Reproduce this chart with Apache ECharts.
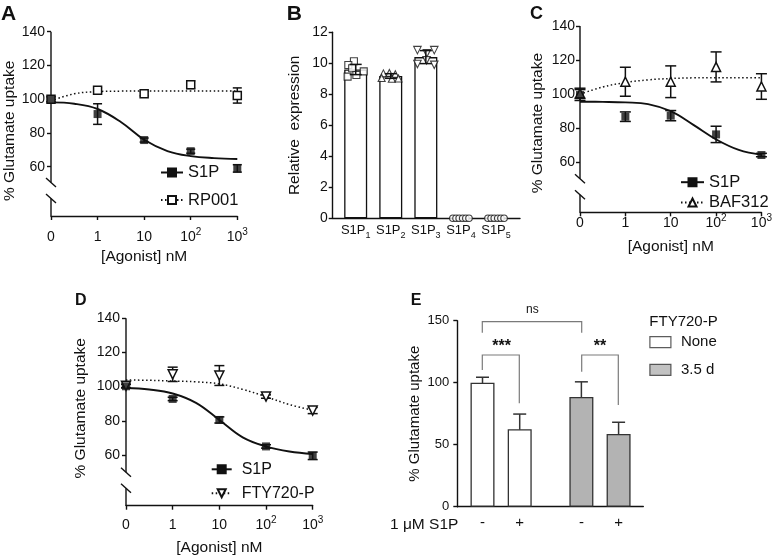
<!DOCTYPE html>
<html><head><meta charset="utf-8">
<script src="https://cdn.jsdelivr.net/npm/echarts@6/dist/echarts.min.js"></script>
<style>html,body{margin:0;padding:0;background:#fff}#c{width:775px;height:559px}</style>
</head><body><div id="c"></div><script>
// ---------------- DATA ----------------
// dose axis: log10(nM); the leftmost position stands for 0 nM
const doseTicks = [-1, 0, 1, 2, 3];
const doseTickBase = ['0', '1', '10', '10', '10'];
const doseTickExp = ['', '', '', '2', '3'];
const fitX = [-1, -0.5, 0, 0.5, 1, 1.5, 2, 2.5, 3];
const yTicksDose = [60, 80, 100, 120, 140];

// Panel A
const A_S1P = [100, 91.2, 75.8, 69.2, 59];
const A_S1P_err = [1.5, 6.1, 1.2, 1.2, 2.2];
const A_RP001 = [100, 105.3, 103.3, 108.6, 102.2];
const A_RP001_err = [1.5, 1.5, 1.3, 2.2, 4.5];
const A_S1P_fit = [98.1, 97.3, 94.2, 86.5, 76, 69.3, 66.3, 65.1, 64.6];
const A_RP001_fit = [99, 103.2, 104.5, 104.8, 104.9, 104.9, 104.9, 104.9, 104.9];

// Panel B
const B_receptorSub = ['1', '2', '3', '4', '5'];
const B_mean = [9.6, 9.18, 10.4, 0, 0];
const B_sd = [0.33, 0.15, 0.42, 0, 0];
const B_pts = [
  [10.13, 9.89, 9.68, 9.48, 9.25, 9.14],
  [9.35, 9.38, 9.3, 9.05, 9.0, 9.02],
  [10.85, 10.65, 10.85, 10.2, 9.95, 9.9],
  [0, 0, 0, 0, 0, 0],
  [0, 0, 0, 0, 0, 0]
];

// Panel C
const C_S1P = [99.5, 86.8, 87.4, 76.4, 64.3];
const C_S1P_err = [3.2, 2.8, 3, 4.8, 1];
const C_BAF312 = [100.5, 107.3, 107.3, 116, 104.5];
const C_BAF312_err = [3, 8.5, 9.3, 8.8, 7.5];
const C_S1P_fit = [95.6, 95.5, 95.2, 94.2, 90, 82, 73.5, 67.3, 64.5];
const C_BAF312_fit = [100, 104.2, 106.8, 108.4, 109.2, 109.6, 109.7, 109.7, 109.7];

// Panel D
const D_S1P = [100.2, 92.8, 80.5, 65, 59.5];
const D_S1P_err = [1, 1, 1.8, 1, 2.2];
const D_FTY = [100.5, 107.2, 106.5, 94.2, 86];
const D_FTY_err = [1, 4.2, 5.8, 1, 1.8];
const D_S1P_fit = [99.2, 98.3, 96, 90.5, 80.5, 70.3, 65, 62, 60.6];
const D_FTY_fit = [103.9, 103.7, 103.3, 102.8, 101.6, 98.4, 94.1, 89.5, 86.2];

// Panel E
const E_groups = ['None', '3.5 d'];
const E_minus = [100, 88.5];
const E_minusErr = [4.4, 12.2];
const E_plus = [62.5, 58.6];
const E_plusErr = [12.2, 9.5];

// ---------------- STYLE / LAYOUT ----------------
const FONT = '"Liberation Sans", Arial, Helvetica, sans-serif';
const INK = '#111';
const B_jitter = [
  [-0.05, -0.21, -0.1, 0.23, 0.02, -0.23],
  [-0.21, -0.04, 0.13, -0.26, 0.03, 0.22],
  [-0.24, 0.03, 0.24, 0.02, -0.24, 0.24],
  [-0.23, -0.14, -0.05, 0.05, 0.14, 0.23],
  [-0.23, -0.14, -0.05, 0.05, 0.14, 0.23]
];
const E_colors = ['#ffffff', '#b3b3b3'];
const E_barWidth = 24, E_barGap = 0.55;

const grids = [
  {left: 51, top: 31.7, width: 186.3, height: 184.3},    // A
  {left: 332.7, top: 32.3, width: 187.3, height: 186},   // B
  {left: 580, top: 26, width: 186.7, height: 186.3},     // C
  {left: 126, top: 318.3, width: 186.7, height: 187.4},  // D
  {left: 457.3, top: 320.7, width: 186, height: 186}     // E
];

const axisLineStyle = {color: INK, width: 1.4};

function doseX(gi, margin, nameGap) {
  return {
    type: 'value', gridIndex: gi, min: -1, max: 3, interval: 1,
    axisLine: {show: true, onZero: false, lineStyle: axisLineStyle},
    axisTick: {show: true, length: 4, lineStyle: axisLineStyle},
    splitLine: {show: false},
    axisLabel: {
      margin: margin, color: INK,
      formatter: function (v) {
        const i = doseTicks.indexOf(v);
        if (i < 0) return '';
        return '{b|' + doseTickBase[i] + '}' + (doseTickExp[i] ? '{sup|' + doseTickExp[i] + '}' : '');
      },
      rich: {
        b: {fontSize: 14, lineHeight: 20, color: INK, fontFamily: FONT},
        sup: {fontSize: 10, lineHeight: 10, verticalAlign: 'top', color: INK, fontFamily: FONT}
      }
    },
    name: '[Agonist] nM', nameLocation: 'middle', nameGap: nameGap,
    nameTextStyle: {fontSize: 15.5, color: INK, fontFamily: FONT}
  };
}
function doseY(gi, yMin, margin, nameGap, pad) {
  return {
    type: 'value', gridIndex: gi, min: yMin, max: 140,
    axisLine: {show: false, onZero: false},
    axisTick: {show: true, length: 4, lineStyle: axisLineStyle, customValues: yTicksDose},
    axisLabel: {customValues: yTicksDose, margin: margin, fontSize: 14, color: INK, fontFamily: FONT},
    splitLine: {show: false},
    name: '% Glutamate uptake', nameLocation: 'middle', nameGap: nameGap,
    nameTextStyle: {fontSize: 15.5, color: INK, fontFamily: FONT, padding: pad}
  };
}

function errBar(capW, color, lw, offsetPx) {
  return function (params, api) {
    const x = api.value(0), lo = api.value(1), hi = api.value(2);
    const a = api.coord([x, hi]), b = api.coord([x, lo]);
    const X = a[0] + (offsetPx || 0);
    const st = {stroke: color, lineWidth: lw};
    return {type: 'group', children: [
      {type: 'line', shape: {x1: X, y1: a[1], x2: X, y2: b[1]}, style: st},
      {type: 'line', shape: {x1: X - capW / 2, y1: a[1], x2: X + capW / 2, y2: a[1]}, style: st},
      {type: 'line', shape: {x1: X - capW / 2, y1: b[1], x2: X + capW / 2, y2: b[1]}, style: st}
    ]};
  };
}
function errData(xs, mean, err) {
  return mean.map((v, i) => [xs[i], v - err[i], v + err[i]]).filter((d, i) => err[i] > 0);
}
function errSeries(ai, xs, mean, err, capW, color, offsetPx) {
  return {type: 'custom', xAxisIndex: ai, yAxisIndex: ai, silent: true, z: 1,
    renderItem: errBar(capW, color || INK, 1.5, offsetPx),
    encode: {x: 0, y: [1, 2]}, data: errData(xs, mean, err)};
}
function fitSeries(ai, name, fit, dotted, symbol, rotate) {
  return {type: 'line', name: name, xAxisIndex: ai, yAxisIndex: ai, silent: true, z: 2,
    smooth: 0.4, showSymbol: false, symbol: symbol, symbolSize: 8, symbolRotate: rotate || 0,
    itemStyle: {color: INK, borderColor: INK, borderWidth: 1.5},
    lineStyle: {color: INK, width: dotted ? 1.5 : 1.9, type: dotted ? [1.5, 2.5] : 'solid'},
    data: fitX.map((x, i) => [x, fit[i]])};
}
function ptSeries(ai, name, vals, filled, symbol, size, rotate) {
  return {type: 'scatter', name: name, xAxisIndex: ai, yAxisIndex: ai, silent: true, z: 3,
    symbol: symbol, symbolSize: size, symbolRotate: rotate || 0,
    itemStyle: filled ? {color: INK} : {color: '#fff', borderColor: INK, borderWidth: 1.5, opacity: 1},
    data: vals.map((v, i) => [doseTicks[i], v])};
}

function brokenAxis(g) {
  const x = g.left, t = g.top, b = g.top + g.height;
  const st = {stroke: INK, lineWidth: 1.4};
  return [
    {type: 'line', shape: {x1: x, y1: t, x2: x, y2: b - 33.5}, style: st, silent: true},
    {type: 'line', shape: {x1: x, y1: b - 17.5, x2: x, y2: b}, style: st, silent: true},
    {type: 'line', shape: {x1: x - 5, y1: b - 38, x2: x + 5, y2: b - 29}, style: st, silent: true},
    {type: 'line', shape: {x1: x - 5, y1: b - 22, x2: x + 5, y2: b - 13}, style: st, silent: true}
  ];
}
function letter(t, x, y, size) {
  return {type: 'text', x: x, y: y, silent: true,
    style: {text: t, fill: INK, font: 'bold ' + size + 'px ' + FONT, align: 'left', verticalAlign: 'top'}};
}
function bracket(pts) {
  return {type: 'polyline', silent: true, shape: {points: pts}, style: {stroke: '#7a7a7a', lineWidth: 1.2, fill: null}};
}
function label(t, x, y, size, bold, align) {
  return {type: 'text', x: x, y: y, silent: true,
    style: {text: t, fill: INK, font: (bold ? 'bold ' : '') + size + 'px ' + FONT, align: align || 'center', verticalAlign: 'middle'}};
}

const bXs = [1, 2, 3, 4, 5];
const bSymbols = [['rect', 7, 0], ['triangle', 7, 0], ['triangle', 7.5, 180], ['circle', 6.5, 0], ['circle', 6.5, 0]];

const series = [
  // ---- A
  errSeries(0, doseTicks, A_RP001, A_RP001_err, 9),
  errSeries(0, doseTicks, A_S1P, A_S1P_err, 9),
  fitSeries(0, 'S1P', A_S1P_fit, false, 'rect'),
  fitSeries(0, 'RP001', A_RP001_fit, true, 'emptyRect'),
  ptSeries(0, 'RP001', A_RP001, false, 'rect', 8),
  ptSeries(0, 'S1P', A_S1P, true, 'rect', 8),
  // ---- B
  {type: 'bar', xAxisIndex: 1, yAxisIndex: 1, silent: true, barWidth: 23, z: 1,
    itemStyle: {color: '#fff', borderColor: INK, borderWidth: 1.3},
    data: B_mean.map((v, i) => [bXs[i], v])},
  // ---- C
  errSeries(2, doseTicks, C_BAF312, C_BAF312_err, 11),
  errSeries(2, doseTicks, C_S1P, C_S1P_err, 11),
  fitSeries(2, 'BAF312', C_BAF312_fit, true, 'emptyTriangle'),
  fitSeries(2, 'S1P', C_S1P_fit, false, 'rect'),
  ptSeries(2, 'BAF312', C_BAF312, false, 'triangle', 9),
  ptSeries(2, 'S1P', C_S1P, true, 'rect', 8),
  // ---- D
  errSeries(3, doseTicks, D_FTY, D_FTY_err, 10),
  errSeries(3, doseTicks, D_S1P, D_S1P_err, 10),
  fitSeries(3, 'FTY720-P', D_FTY_fit, true, 'emptyTriangle', 180),
  fitSeries(3, 'S1P', D_S1P_fit, false, 'rect'),
  ptSeries(3, 'FTY720-P', D_FTY, false, 'triangle', 9, 180),
  ptSeries(3, 'S1P', D_S1P, true, 'rect', 8),
  // ---- E
  {type: 'bar', name: 'S1P -', xAxisIndex: 4, yAxisIndex: 4, silent: true, z: 1,
    barWidth: E_barWidth, barGap: (E_barGap * 100) + '%',
    label: {show: true, position: 'bottom', distance: 9, formatter: '-', fontSize: 15, color: INK, fontFamily: FONT},
    data: E_minus.map((v, i) => ({value: [i, v], itemStyle: {color: E_colors[i], borderColor: '#333', borderWidth: 1.3}}))},
  {type: 'bar', name: 'S1P +', xAxisIndex: 4, yAxisIndex: 4, silent: true, z: 1,
    barWidth: E_barWidth, barGap: (E_barGap * 100) + '%',
    label: {show: true, position: 'bottom', distance: 9, formatter: '+', fontSize: 15, color: INK, fontFamily: FONT},
    data: E_plus.map((v, i) => ({value: [i, v], itemStyle: {color: E_colors[i], borderColor: '#333', borderWidth: 1.3}}))},
  errSeries(4, [0, 1], E_minus, E_minusErr, 13, '#333', -E_barWidth * (1 + E_barGap) / 2),
  errSeries(4, [0, 1], E_plus, E_plusErr, 13, '#333', E_barWidth * (1 + E_barGap) / 2),
  {type: 'scatter', name: E_groups[0], xAxisIndex: 4, yAxisIndex: 4, data: [],
    itemStyle: {color: E_colors[0], borderColor: '#333', borderWidth: 1.3}},
  {type: 'scatter', name: E_groups[1], xAxisIndex: 4, yAxisIndex: 4, data: [],
    itemStyle: {color: E_colors[1], borderColor: '#333', borderWidth: 1.3}}
];
// B individual points and SD bars
B_pts.forEach(function (vals, k) {
  const s = bSymbols[k];
  series.push({type: 'scatter', xAxisIndex: 1, yAxisIndex: 1, silent: true, z: 3,
    symbol: s[0], symbolSize: s[1], symbolRotate: s[2],
    itemStyle: {color: '#fff', borderColor: INK, borderWidth: 1.1},
    data: vals.map((v, j) => [bXs[k] + B_jitter[k][j], v])});
});
series.push(errSeries(1, bXs, B_mean, B_sd, 12));
series[series.length - 1].z = 4;

const legendText = (size) => ({fontSize: size, lineHeight: 16, color: INK, fontFamily: FONT});

const option = {
  animation: false,
  backgroundColor: '#fff',
  textStyle: {fontFamily: FONT, color: INK},
  grid: grids,
  xAxis: [
    doseX(0, 11.5, 33),
    {type: 'value', gridIndex: 1, min: 0.345, max: 5.684,
      axisLine: {show: true, onZero: false, lineStyle: axisLineStyle},
      axisTick: {show: false}, splitLine: {show: false},
      axisLabel: {customValues: bXs, margin: 2,
        formatter: function (v) { const i = bXs.indexOf(v); return i < 0 ? '' : '{b|S1P}{s|' + B_receptorSub[i] + '}'; },
        rich: {b: {fontSize: 13, lineHeight: 20, color: INK, fontFamily: FONT},
               s: {fontSize: 9, lineHeight: 10, verticalAlign: 'bottom', color: INK, fontFamily: FONT}}}},
    doseX(2, 0.5, 26.7),
    doseX(3, 9.3, 34),
    {type: 'value', gridIndex: 4, min: -0.443, max: 1.438,
      axisLine: {show: true, onZero: false, lineStyle: axisLineStyle},
      axisTick: {show: false}, axisLabel: {show: false}, splitLine: {show: false}}
  ],
  yAxis: [
    doseY(0, 30.8, 6, 33, [0, 14, 0, 0]),
    {type: 'value', gridIndex: 1, min: 0, max: 12, interval: 2,
      axisLine: {show: true, onZero: false, lineStyle: axisLineStyle},
      axisTick: {show: true, length: 4, lineStyle: axisLineStyle},
      axisLabel: {margin: 5, fontSize: 14, color: INK, fontFamily: FONT},
      splitLine: {show: false},
      name: 'Relative  expression', nameLocation: 'middle', nameGap: 30,
      nameTextStyle: {fontSize: 15.5, color: INK, fontFamily: FONT}},
    doseY(2, 30.7, 5, 34.3, [0, 8, 0, 0]),
    doseY(3, 30.3, 6, 37, [0, 0, 0, 7.4]),
    {type: 'value', gridIndex: 4, min: 0, max: 150, interval: 50,
      axisLine: {show: true, onZero: false, lineStyle: axisLineStyle},
      axisTick: {show: true, length: 4, lineStyle: axisLineStyle},
      axisLabel: {margin: 8, fontSize: 13, color: INK, fontFamily: FONT},
      splitLine: {show: false},
      name: '% Glutamate uptake', nameLocation: 'middle', nameGap: 35,
      nameTextStyle: {fontSize: 15, color: INK, fontFamily: FONT}}
  ],
  legend: [
    {orient: 'vertical', left: 160, top: 164, padding: 0, itemWidth: 22, itemHeight: 10, itemGap: 10.6,
      selectedMode: false, data: ['S1P', 'RP001'], textStyle: legendText(16.5)},
    {orient: 'vertical', left: 680, top: 173.7, padding: 0, itemWidth: 23, itemHeight: 10, itemGap: 3.3,
      selectedMode: false, data: ['S1P', 'BAF312'], textStyle: legendText(16.5)},
    {orient: 'vertical', left: 210.7, top: 461.3, padding: 0, itemWidth: 20, itemHeight: 10, itemGap: 8,
      selectedMode: false, data: ['S1P', 'FTY720-P'], textStyle: Object.assign(legendText(16), {padding: [0, 0, 0, 5]})},
    {orient: 'vertical', left: 649.3, top: 334.2, padding: 0, itemWidth: 21, itemHeight: 11, itemGap: 11.6,
      selectedMode: false,
      data: [
        {name: E_groups[0], icon: 'rect', itemStyle: {color: E_colors[0], borderColor: '#333', borderWidth: 1.2}},
        {name: E_groups[1], icon: 'rect', itemStyle: {color: E_colors[1], borderColor: '#333', borderWidth: 1.2}}
      ],
      textStyle: Object.assign(legendText(15), {padding: [0, 0, 0, 5]})}
  ],
  series: series,
  graphic: [].concat(
    brokenAxis(grids[0]), brokenAxis(grids[2]), brokenAxis(grids[3]),
    [
      letter('A', 1, 3.5, 21), letter('B', 286.7, 3.5, 21), letter('C', 530, 5.5, 18),
      letter('D', 75, 292.5, 16), letter('E', 410.7, 292.5, 16),
      bracket([[482.3, 332.7], [482.3, 321.7], [581.7, 321.7], [581.7, 332.7]]),
      bracket([[482.3, 370], [482.3, 355], [519.3, 355], [519.3, 403.3]]),
      bracket([[581.7, 371.7], [581.7, 355], [618.3, 355], [618.3, 405]]),
      label('ns', 532.3, 310, 12, false),
      label('***', 501.7, 347, 16, true),
      label('**', 600, 347, 16, true),
      label('FTY720-P', 649.3, 321.7, 15, false, 'left'),
      label('1 \u03bcM S1P', 390, 525, 15.5, false, 'left')
    ]
  )
};

const chart = echarts.init(document.getElementById('c'), null, {renderer: 'canvas', width: 775, height: 559});
chart.setOption(option);
</script></body></html>
